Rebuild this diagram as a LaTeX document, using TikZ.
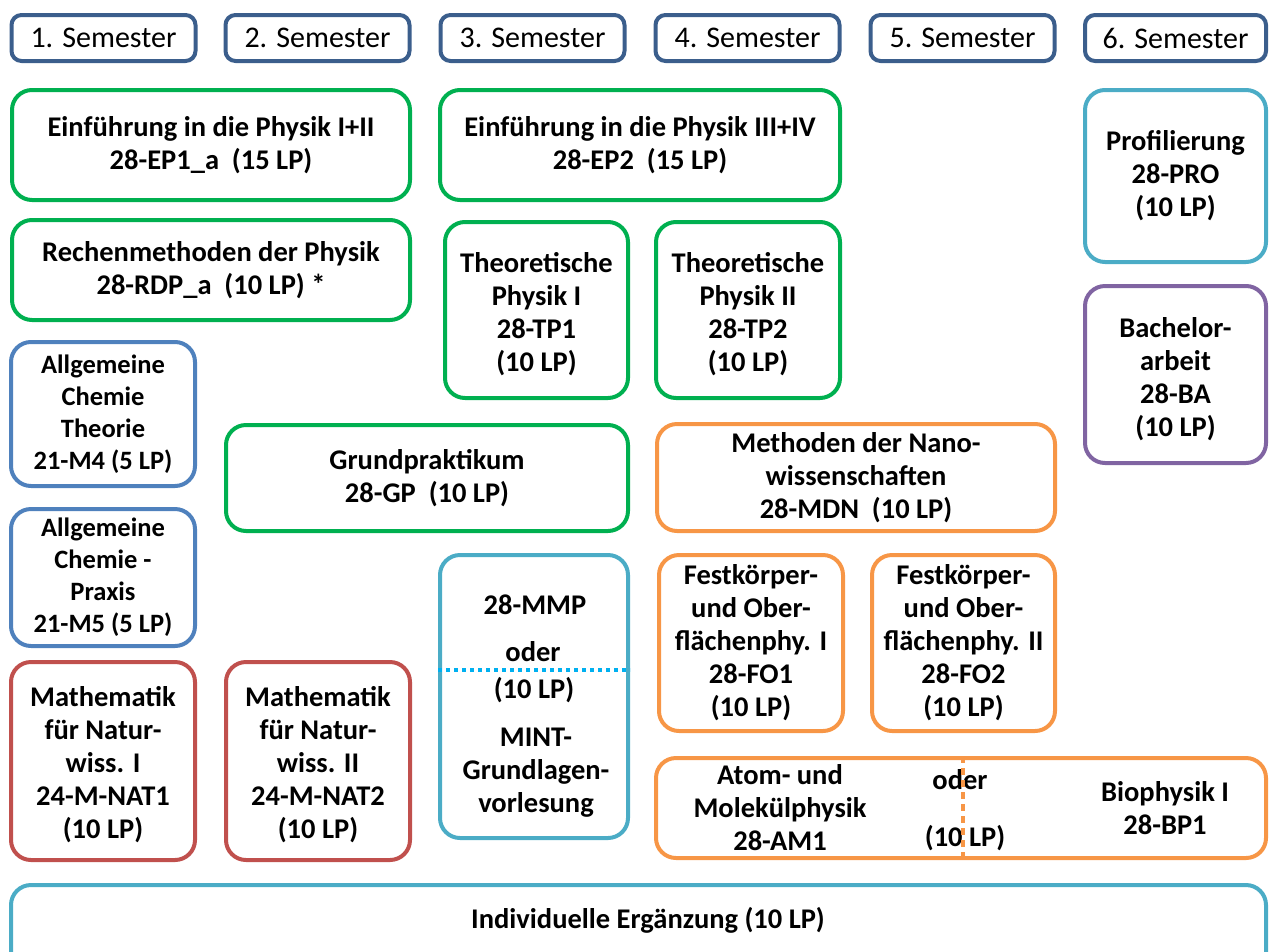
\documentclass[tikz,border=0pt]{standalone}
\usepackage{fontspec}
\setmainfont{Carlito}
\definecolor{semblue}{HTML}{3B5E8C}
\definecolor{pgreen}{HTML}{00B050}
\definecolor{pteal}{HTML}{4BACC6}
\definecolor{ppurple}{HTML}{8064A2}
\definecolor{pblue}{HTML}{4F81BD}
\definecolor{porange}{HTML}{F79646}
\definecolor{pred}{HTML}{C0504D}
\definecolor{pcyan}{HTML}{00B0F0}
\begin{document}
\begin{tikzpicture}[x=1pt,y=-1pt,
  sem/.style={draw=semblue,line width=4pt,rounded corners=10pt,minimum width=184pt,minimum height=46pt,inner sep=0pt,
     font=\fontsize{30}{34}\selectfont},
  mod/.style={draw=#1,line width=4pt,rounded corners=20pt,inner sep=0pt,align=center,
     font=\fontsize{28.5}{33}\selectfont\bfseries},
  txt/.style={inner sep=0pt,align=center,font=\fontsize{28.5}{33}\selectfont\bfseries},
  acfont/.style={font=\fontsize{26.5}{32}\selectfont\bfseries},
  sz/.style 2 args={minimum width=#1pt,minimum height=#2pt}]
\useasboundingbox (0,0) rectangle (1271,951);
\clip (0,0) rectangle (1271,951);
% semesters
\node[sem] (s1) at (103.5,38) {1. Semester};
\node[sem] (s2) at (317.5,38) {2. Semester};
\node[sem] (s3) at (532.5,38) {3. Semester};
\node[sem] (s4) at (747.5,38) {4. Semester};
\node[sem] (s5) at (962.5,38) {5. Semester};
\node[sem,minimum width=181pt] (s6) at (1175.5,38) {6. Semester};
% modules
\node[mod=pgreen,sz={398}{110}] (ep1) at (211,145) {Einführung in die Physik I+II\\28-EP1\_a\ \ (15 LP)};
\node[mod=pgreen,sz={400}{110}] (ep2) at (640,145) {Einführung in die Physik III+IV\\28-EP2\ \ (15 LP)};
\node[mod=pteal,sz={181}{172}] (pro) at (1175.5,176) {Profilierung\\28-PRO\\(10 LP)};
\node[mod=pgreen,sz={398}{100}] (rdp) at (211,270) {Rechenmethoden der Physik\\28-RDP\_a\ \ (10 LP) *};
\node[mod=pgreen,sz={183}{176}] (tp1) at (536.5,310) {};
\node[mod=pgreen,sz={184}{176}] (tp2) at (748,310) {};
\node[mod=ppurple,sz={181}{177}] (ba) at (1175.5,374.5) {};
\node[mod=pblue,sz={184}{144},acfont] (act) at (103,414) {Allgemeine\\Chemie\\Theorie\\21-M4 (5 LP)};
\node[mod=pgreen,sz={402}{106}] (gp) at (427,478) {Grundpraktikum\\28-GP\ \ (10 LP)};
\node[mod=porange,sz={398}{107}] (mdn) at (856,477.5) {Methoden der Nano-\\wissenschaften\\28-MDN\ \ (10 LP)};
\node[mod=pblue,sz={184}{137},acfont] (acp) at (103,577.5) {Allgemeine\\Chemie -\\Praxis\\21-M5 (5 LP)};
\node[mod=pteal,sz={188}{283}] (mmp) at (534,696.5) {};
\node[mod=porange,sz={184}{176}] (fo1) at (751,643) {Festkörper-\\und Ober-\\flächenphy. I\\28-FO1\\(10 LP)};
\node[mod=porange,sz={183}{176}] (fo2) at (963.5,643) {Festkörper-\\und Ober-\\flächenphy. II\\28-FO2\\(10 LP)};
\node[mod=pred,sz={184}{198}] (m1) at (103,761) {};
\node[mod=pred,sz={184}{198}] (m2) at (318,761) {};
\node[mod=porange,sz={610}{100}] (ambp) at (961,808) {};
\node[mod=pteal,sz={1255}{90}] (ie) at (638.5,930) {};
% texts placed inside boxes
\node[txt,yshift=-4pt] (tp1t) at (tp1) {Theoretische\\Physik I\\28-TP1\\(10 LP)};
\node[txt,yshift=-4pt] (tp2t) at (tp2) {Theoretische\\Physik II\\28-TP2\\(10 LP)};
\node[txt,yshift=-5pt] (bat) at (ba) {Bachelor-\\arbeit\\28-BA\\(10 LP)};
\node[txt,yshift=-4pt] (m1t) at (m1) {Mathematik\\für Natur-\\wiss. I\\24-M-NAT1\\(10 LP)};
\node[txt,yshift=-4pt] (m2t) at (m2) {Mathematik\\für Natur-\\wiss. II\\24-M-NAT2\\(10 LP)};
\node[txt] (mmpa) at (535,605) {28-MMP};
\node[txt] (mmpo) at (533,652) {oder};
\node[txt] (mmpl) at (534,690) {(10 LP)};
\node[txt] (mmpb) at (536,773) {MINT-\\Grundlagen-\\vorlesung};
\node[txt] (am) at (780,808) {Atom- und\\Molekülphysik\\28-AM1};
\node[txt] (amo) at (960,780) {oder};
\node[txt] (aml) at (965,838) {(10 LP)};
\node[txt] (bp) at (1165,808) {Biophysik I\\28-BP1};
\node[txt] (iet) at (648,920) {Individuelle Ergänzung (10 LP)};
% dotted separators
\coordinate (mmpL) at (mmp.west |- 0,670);
\coordinate (mmpR) at (mmp.east |- 0,670);
\draw[pcyan,line width=4pt,dash pattern=on 4pt off 4pt] (mmpL) -- (mmpR);
\coordinate (amT) at (963,0 |- ambp.north);
\coordinate (amB) at (963,0 |- ambp.south);
\draw[porange,line width=4pt,dash pattern=on 7pt off 5pt] (amT) -- (amB);
\end{tikzpicture}
\end{document}
